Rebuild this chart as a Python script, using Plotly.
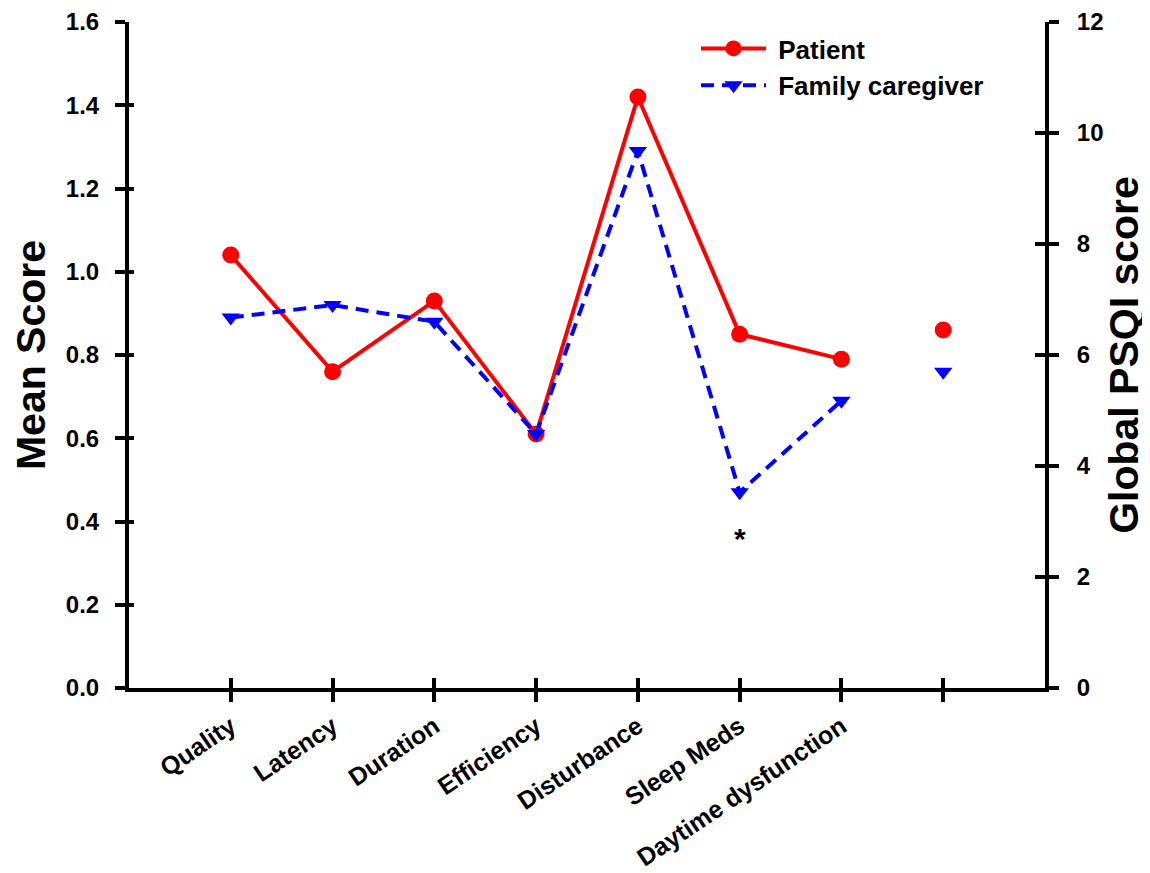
import plotly.graph_objects as go

categories = ["Quality", "Latency", "Duration", "Efficiency", "Disturbance", "Sleep Meds", "Daytime dysfunction"]
patient = [1.04, 0.76, 0.93, 0.61, 1.42, 0.85, 0.79]
caregiver = [0.89, 0.92, 0.88, 0.61, 1.29, 0.47, 0.69]
global_patient = [6.45]
global_caregiver = [5.7]
left_ticks = [0.0, 0.2, 0.4, 0.6, 0.8, 1.0, 1.2, 1.4, 1.6]
right_ticks = [0, 2, 4, 6, 8, 10, 12]

x_pos = list(range(1, len(categories) + 1))
x_global = [len(categories) + 1]
x_ticks = x_pos + x_global
X_RANGE = [0, 9]
Y_RANGE = [0, 1.6]
Y2_RANGE = [0, 12]

FONT = "Arial, Liberation Sans, sans-serif"
RED = "#ff0000"
BLUE = "#0000ff"

fig = go.Figure()
fig.add_trace(go.Scatter(
    x=x_pos, y=patient, mode="lines+markers", name="\u00a0Patient",
    line=dict(color=RED, width=4),
    marker=dict(symbol="circle", size=17, color=RED),
))
fig.add_trace(go.Scatter(
    x=x_pos, y=caregiver, mode="lines+markers", name="\u00a0Family caregiver",
    line=dict(color=BLUE, width=4, dash="13px,8px"),
    marker=dict(symbol="triangle-down", size=16, color=BLUE),
))
fig.add_trace(go.Scatter(
    x=x_global, y=global_patient, mode="markers", showlegend=False, yaxis="y2",
    marker=dict(symbol="circle", size=17, color=RED),
))
fig.add_trace(go.Scatter(
    x=x_global, y=global_caregiver, mode="markers", showlegend=False, yaxis="y2",
    marker=dict(symbol="triangle-down", size=16, color=BLUE),
))
# empty helper traces so the overlay axes (inner tick halves) get drawn
fig.add_trace(go.Scatter(x=[None], y=[None], xaxis="x2", yaxis="y3", showlegend=False, hoverinfo="skip"))
fig.add_trace(go.Scatter(x=[None], y=[None], xaxis="x2", yaxis="y4", showlegend=False, hoverinfo="skip"))

fig.add_annotation(x=6, y=0.36, text="*", showarrow=False,
                   font=dict(family=FONT, size=30, color="black", weight="bold"))

tick_common = dict(tickwidth=3.5, tickcolor="black", showgrid=False, zeroline=False, automargin=False)

fig.update_layout(
    width=1142, height=865,
    margin=dict(l=121, r=105, t=14, b=185, autoexpand=False),
    paper_bgcolor="white", plot_bgcolor="white",
    font=dict(family=FONT, color="black"),
    showlegend=True,
    legend=dict(x=0.619, y=0.9955, xanchor="left", yanchor="top",
                bgcolor="rgba(0,0,0,0)",
                font=dict(family=FONT, size=26, color="black", weight="bold"),
                itemwidth=65, tracegroupgap=0),
    xaxis=dict(
        range=X_RANGE, tickmode="array",
        tickvals=x_ticks, ticktext=categories + [""],
        tickangle=-34, ticks="outside", ticklen=10,
        showline=True, linewidth=4, linecolor="black",
        tickfont=dict(family=FONT, size=25, color="black", weight="bold"),
        **tick_common,
    ),
    xaxis2=dict(
        range=X_RANGE, overlaying="x", side="bottom", anchor="y",
        tickmode="array", tickvals=x_ticks, ticks="inside", ticklen=10,
        showticklabels=False, showline=False, **tick_common,
    ),
    yaxis=dict(
        range=Y_RANGE, tickmode="array", tickvals=left_ticks,
        ticktext=[f"{v:.1f}" for v in left_ticks],
        ticks="outside", ticklen=10, ticklabelstandoff=11,
        showline=True, linewidth=4, linecolor="black",
        tickfont=dict(family=FONT, size=24, color="black", weight="bold"),
        title=dict(text="Mean Score", standoff=14,
                   font=dict(family=FONT, size=41, color="black", weight="bold")),
        **tick_common,
    ),
    yaxis2=dict(
        range=Y2_RANGE, overlaying="y", side="right", anchor="x",
        tickmode="array", tickvals=right_ticks,
        ticks="outside", ticklen=10, ticklabelstandoff=13,
        showline=True, linewidth=4, linecolor="black",
        tickfont=dict(family=FONT, size=24, color="black", weight="bold"),
        title=dict(text="Global PSQI score", standoff=8,
                   font=dict(family=FONT, size=41, color="black", weight="bold")),
        **tick_common,
    ),
    yaxis3=dict(
        range=Y_RANGE, overlaying="y", side="left", anchor="x2",
        tickmode="array", tickvals=left_ticks, ticks="inside", ticklen=5,
        showticklabels=False, showline=False, **tick_common,
    ),
    yaxis4=dict(
        range=Y2_RANGE, overlaying="y", side="right", anchor="x2",
        tickmode="array", tickvals=right_ticks, ticks="inside", ticklen=10,
        showticklabels=False, showline=False, **tick_common,
    ),
)

fig.write_html("out.html")
